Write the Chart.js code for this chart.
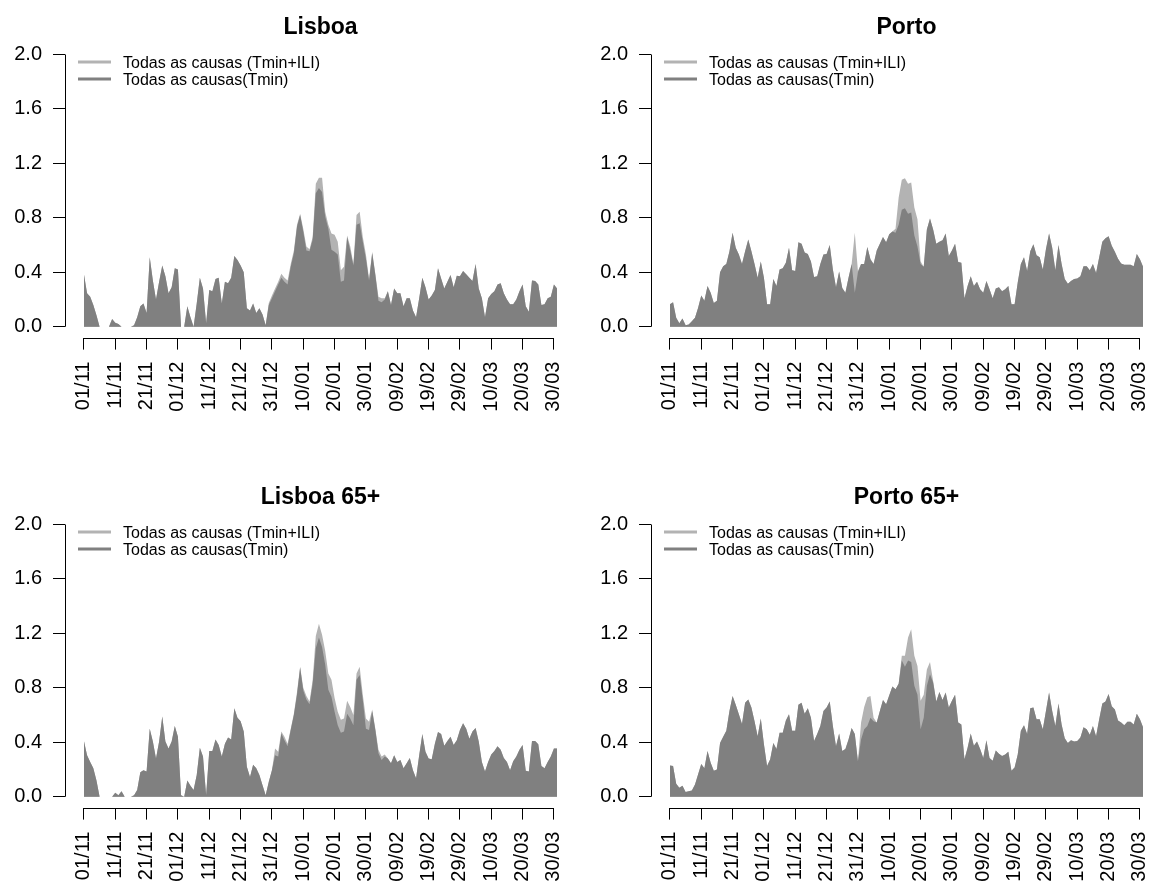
<!DOCTYPE html>
<html>
<head>
<meta charset="utf-8">
<title>Todas as causas</title>
<script src="https://cdn.jsdelivr.net/npm/chart.js@4.4.1/dist/chart.umd.min.js"></script>
<style>
  html, body { margin: 0; padding: 0; background: #fff; overflow: hidden; }
  #wrap { position: relative; width: 1152px; height: 884px; overflow: hidden; }
  #wrap canvas { position: absolute; }
</style>
</head>
<body>
<div id="wrap">
  <canvas id="cLisboa"   width="576" height="414" style="left:0;top:0"></canvas>
  <canvas id="cPorto"    width="576" height="414" style="left:586px;top:0"></canvas>
  <canvas id="cLisboa65" width="576" height="414" style="left:0;top:470px"></canvas>
  <canvas id="cPorto65"  width="576" height="414" style="left:586px;top:470px"></canvas>
</div>
<script>
// ---- axis ticks (day index from 01/11) ----
const TICK_DAYS   = [0, 10, 20, 30, 40, 50, 60, 70, 80, 90, 100, 110, 120, 130, 140, 150];
const TICK_LABELS = ['01/11','11/11','21/11','01/12','11/12','21/12','31/12','10/01',
                     '20/01','30/01','09/02','19/02','29/02','10/03','20/03','30/03'];
const Y_TICKS     = [0, 0.4, 0.8, 1.2, 1.6, 2.0];

const SERIES_NAMES = ['Todas as causas (Tmin+ILI)', 'Todas as causas(Tmin)'];

// ---- Lisboa ----
const LISBOA_TMIN = [
  0.385,0.245,0.22,0.16,0.085,0,0,0,0,0.056,0.03,0.02,0,0,0,0,0.01,0.07,0.15,0.17,
  0.1,0.51,0.34,0.2,0.33,0.45,0.37,0.245,0.29,0.43,0.42,0,0,0.15,0.07,0,0.17,0.36,0.28,0.025,
  0.27,0.26,0.35,0.36,0.17,0.33,0.32,0.36,0.52,0.49,0.45,0.4,0.135,0.12,0.17,0.1,0.135,0.09,0.01,0.16,
  0.21,0.26,0.31,0.36,0.33,0.31,0.44,0.54,0.735,0.82,0.70,0.56,0.555,0.64,0.98,1.02,0.99,0.81,0.72,0.565,
  0.55,0.53,0.33,0.34,0.66,0.56,0.45,0.75,0.76,0.625,0.5,0.34,0.54,0.38,0.19,0.18,0.2,0.26,0.16,0.28,
  0.245,0.245,0.15,0.21,0.21,0.12,0.07,0.21,0.36,0.29,0.2,0.23,0.27,0.43,0.355,0.28,0.33,0.38,0.29,0.375,
  0.37,0.41,0.385,0.36,0.335,0.46,0.28,0.21,0.07,0.21,0.24,0.26,0.31,0.32,0.245,0.2,0.165,0.165,0.2,0.26,
  0.31,0.15,0.11,0.34,0.335,0.31,0.16,0.165,0.21,0.22,0.31,0.28
];
const LISBOA_TMIN_ILI = [
  0.385,0.245,0.22,0.16,0.085,0,0,0,0,0.056,0.03,0.02,0,0,0,0,0.01,0.07,0.15,0.17,
  0.1,0.51,0.34,0.2,0.33,0.45,0.37,0.245,0.29,0.43,0.42,0,0,0.15,0.07,0,0.17,0.36,0.28,0.025,
  0.27,0.26,0.35,0.36,0.17,0.33,0.32,0.36,0.52,0.49,0.45,0.4,0.135,0.12,0.17,0.1,0.135,0.09,0.01,0.175,
  0.23,0.28,0.33,0.39,0.36,0.34,0.46,0.56,0.75,0.83,0.72,0.59,0.57,0.66,1.05,1.095,1.095,0.845,0.75,0.685,
  0.675,0.625,0.415,0.44,0.67,0.59,0.46,0.82,0.845,0.66,0.53,0.35,0.55,0.39,0.22,0.21,0.21,0.26,0.16,0.28,
  0.245,0.245,0.15,0.21,0.21,0.12,0.07,0.21,0.36,0.29,0.2,0.23,0.27,0.43,0.355,0.28,0.33,0.38,0.29,0.375,
  0.37,0.41,0.385,0.36,0.335,0.46,0.28,0.21,0.07,0.21,0.24,0.26,0.31,0.32,0.245,0.2,0.165,0.165,0.2,0.26,
  0.31,0.15,0.11,0.34,0.335,0.31,0.16,0.165,0.21,0.22,0.31,0.28
];

// ---- Porto ----
const PORTO_TMIN = [
  0.165,0.18,0.065,0.025,0.06,0.01,0.017,0.04,0.065,0.14,0.23,0.19,0.3,0.25,0.175,0.19,0.4,0.445,0.46,0.555,
  0.69,0.58,0.53,0.46,0.555,0.64,0.555,0.46,0.36,0.48,0.36,0.165,0.165,0.35,0.3,0.42,0.43,0.47,0.58,0.415,
  0.41,0.62,0.61,0.545,0.535,0.48,0.365,0.37,0.46,0.53,0.535,0.6,0.42,0.29,0.405,0.285,0.25,0.36,0.46,0.25,
  0.4,0.46,0.46,0.585,0.495,0.46,0.56,0.61,0.66,0.62,0.68,0.70,0.69,0.75,0.86,0.87,0.83,0.84,0.67,0.59,
  0.46,0.44,0.715,0.795,0.715,0.61,0.625,0.635,0.685,0.52,0.56,0.61,0.475,0.47,0.21,0.3,0.37,0.3,0.33,0.275,
  0.25,0.335,0.275,0.21,0.28,0.29,0.26,0.275,0.3,0.165,0.165,0.325,0.46,0.51,0.41,0.555,0.605,0.525,0.51,0.42,
  0.57,0.685,0.58,0.415,0.6,0.46,0.35,0.315,0.335,0.35,0.355,0.37,0.445,0.445,0.415,0.46,0.395,0.51,0.625,0.65,
  0.665,0.595,0.55,0.5,0.465,0.455,0.455,0.455,0.445,0.535,0.495,0.44
];
const PORTO_TMIN_ILI = [
  0.165,0.18,0.065,0.025,0.06,0.01,0.017,0.04,0.065,0.14,0.23,0.19,0.3,0.25,0.175,0.19,0.4,0.445,0.46,0.555,
  0.69,0.58,0.53,0.46,0.555,0.64,0.555,0.46,0.36,0.48,0.36,0.165,0.165,0.35,0.3,0.42,0.43,0.47,0.58,0.415,
  0.41,0.62,0.61,0.545,0.535,0.48,0.365,0.37,0.46,0.53,0.535,0.6,0.42,0.29,0.405,0.285,0.25,0.36,0.46,0.69,
  0.41,0.46,0.46,0.585,0.495,0.46,0.56,0.61,0.66,0.62,0.68,0.70,0.72,0.95,1.08,1.09,1.05,1.06,0.875,0.79,
  0.48,0.44,0.715,0.795,0.715,0.61,0.625,0.635,0.685,0.52,0.56,0.61,0.475,0.47,0.21,0.3,0.37,0.3,0.33,0.275,
  0.25,0.335,0.275,0.21,0.28,0.29,0.26,0.275,0.3,0.165,0.165,0.325,0.46,0.51,0.41,0.555,0.605,0.525,0.51,0.42,
  0.57,0.685,0.58,0.415,0.6,0.46,0.35,0.315,0.335,0.35,0.355,0.37,0.445,0.445,0.415,0.46,0.395,0.51,0.625,0.65,
  0.665,0.595,0.55,0.5,0.465,0.455,0.455,0.455,0.445,0.535,0.495,0.44
];

// ---- Lisboa 65+ ----
const LISBOA65_TMIN = [
  0.41,0.305,0.255,0.21,0.12,0,0,0,0,0,0.03,0.01,0.04,0,0,0,0.01,0.05,0.18,0.195,
  0.185,0.5,0.405,0.28,0.405,0.59,0.405,0.355,0.405,0.52,0.44,0.01,0,0.12,0.08,0.05,0.16,0.36,0.295,0.01,
  0.335,0.335,0.42,0.38,0.295,0.39,0.435,0.42,0.65,0.58,0.555,0.48,0.22,0.145,0.235,0.21,0.16,0.085,0.01,0.11,
  0.195,0.305,0.295,0.465,0.415,0.37,0.49,0.6,0.75,0.95,0.78,0.715,0.68,0.83,1.09,1.17,1.1,0.97,0.785,0.735,
  0.625,0.525,0.47,0.48,0.61,0.575,0.525,0.86,0.895,0.71,0.5,0.49,0.63,0.49,0.32,0.27,0.295,0.28,0.245,0.305,
  0.255,0.27,0.21,0.245,0.285,0.195,0.135,0.305,0.46,0.33,0.28,0.275,0.39,0.475,0.46,0.375,0.41,0.44,0.38,0.415,
  0.49,0.54,0.5,0.425,0.48,0.505,0.405,0.255,0.185,0.255,0.31,0.335,0.37,0.345,0.285,0.255,0.195,0.26,0.295,0.345,
  0.38,0.19,0.185,0.41,0.41,0.385,0.225,0.21,0.255,0.295,0.355,0.355
];
const LISBOA65_TMIN_ILI = [
  0.41,0.305,0.255,0.21,0.12,0,0,0,0,0,0.03,0.01,0.04,0,0,0,0.01,0.05,0.18,0.195,
  0.185,0.5,0.405,0.28,0.405,0.59,0.405,0.355,0.405,0.52,0.44,0.01,0,0.12,0.08,0.05,0.16,0.36,0.295,0.01,
  0.335,0.335,0.42,0.38,0.295,0.39,0.435,0.42,0.65,0.58,0.555,0.48,0.22,0.145,0.235,0.21,0.16,0.085,0.01,0.11,
  0.195,0.355,0.33,0.48,0.44,0.39,0.5,0.61,0.77,0.955,0.8,0.74,0.7,0.86,1.18,1.27,1.19,1.07,0.905,0.86,
  0.725,0.625,0.565,0.575,0.705,0.66,0.6,0.905,0.955,0.75,0.575,0.55,0.64,0.5,0.345,0.295,0.31,0.28,0.245,0.305,
  0.255,0.27,0.21,0.245,0.285,0.195,0.135,0.305,0.46,0.33,0.28,0.275,0.39,0.475,0.46,0.375,0.41,0.44,0.38,0.415,
  0.49,0.54,0.5,0.425,0.48,0.505,0.405,0.255,0.185,0.255,0.31,0.335,0.37,0.345,0.285,0.255,0.195,0.26,0.295,0.345,
  0.38,0.19,0.185,0.41,0.41,0.385,0.225,0.21,0.255,0.295,0.355,0.355
];

// ---- Porto 65+ ----
const PORTO65_TMIN = [
  0.23,0.225,0.095,0.065,0.08,0.035,0.04,0.045,0.09,0.165,0.24,0.21,0.335,0.25,0.19,0.2,0.395,0.44,0.485,0.63,
  0.74,0.675,0.605,0.535,0.69,0.715,0.655,0.555,0.445,0.575,0.385,0.225,0.275,0.395,0.35,0.47,0.47,0.56,0.605,0.485,
  0.485,0.675,0.69,0.61,0.65,0.58,0.41,0.46,0.52,0.63,0.655,0.7,0.52,0.37,0.465,0.335,0.35,0.42,0.505,0.46,
  0.26,0.42,0.495,0.52,0.58,0.555,0.545,0.63,0.71,0.68,0.745,0.81,0.79,0.83,1.0,0.955,1.0,0.99,0.815,0.75,
  0.495,0.58,0.815,0.9,0.84,0.7,0.77,0.71,0.765,0.655,0.705,0.75,0.545,0.53,0.275,0.36,0.465,0.375,0.405,0.35,
  0.285,0.415,0.285,0.265,0.34,0.315,0.3,0.31,0.33,0.19,0.215,0.31,0.485,0.525,0.46,0.65,0.655,0.57,0.57,0.495,
  0.63,0.765,0.63,0.52,0.685,0.53,0.43,0.395,0.415,0.405,0.41,0.435,0.51,0.495,0.455,0.52,0.445,0.57,0.685,0.7,
  0.755,0.665,0.64,0.56,0.545,0.525,0.55,0.55,0.53,0.61,0.57,0.51
];
const PORTO65_TMIN_ILI = [
  0.23,0.225,0.095,0.065,0.08,0.035,0.04,0.045,0.09,0.165,0.24,0.21,0.335,0.25,0.19,0.2,0.395,0.44,0.485,0.63,
  0.74,0.675,0.605,0.535,0.69,0.715,0.655,0.555,0.445,0.575,0.385,0.225,0.275,0.395,0.35,0.47,0.47,0.56,0.605,0.485,
  0.485,0.675,0.69,0.61,0.65,0.58,0.41,0.46,0.52,0.63,0.655,0.7,0.52,0.37,0.465,0.335,0.35,0.42,0.505,0.46,
  0.26,0.545,0.66,0.73,0.74,0.58,0.545,0.63,0.71,0.68,0.745,0.81,0.79,0.83,1.035,1.035,1.17,1.23,1.035,0.96,
  0.705,0.75,0.935,0.99,0.85,0.7,0.77,0.71,0.765,0.655,0.705,0.75,0.545,0.53,0.275,0.36,0.465,0.375,0.405,0.35,
  0.285,0.415,0.285,0.265,0.34,0.315,0.3,0.31,0.33,0.19,0.215,0.31,0.485,0.525,0.46,0.65,0.655,0.57,0.57,0.495,
  0.63,0.765,0.63,0.52,0.685,0.53,0.43,0.395,0.415,0.405,0.41,0.435,0.51,0.495,0.455,0.52,0.445,0.57,0.685,0.7,
  0.755,0.665,0.64,0.56,0.545,0.525,0.55,0.55,0.53,0.61,0.57,0.51
];

const LIGHT = '#b3b3b3';
const DARK  = '#808080';
const FONT  = '"Liberation Sans", Arial, Helvetica, sans-serif';

Chart.defaults.font.family = FONT;
Chart.defaults.color = '#000';

// R-style axis lines: only between first and last tick
const rAxes = {
  id: 'rAxes',
  afterDraw(chart) {
    const { ctx, chartArea, scales: { x, y } } = chart;
    ctx.save();
    ctx.strokeStyle = '#000';
    ctx.lineWidth = 1;
    ctx.beginPath();
    const yb = Math.round(chartArea.bottom) + 0.5;
    ctx.moveTo(x.getPixelForValue(TICK_DAYS[0]), yb);
    ctx.lineTo(x.getPixelForValue(TICK_DAYS[TICK_DAYS.length - 1]), yb);
    const xl = Math.round(chartArea.left) + 0.5;
    ctx.moveTo(xl, y.getPixelForValue(Y_TICKS[0]));
    ctx.lineTo(xl, y.getPixelForValue(Y_TICKS[Y_TICKS.length - 1]));
    ctx.stroke();
    ctx.restore();
  }
};

// legend inside the plot, top-left
const inLegend = {
  id: 'inLegend',
  afterDraw(chart) {
    const { ctx, chartArea } = chart;
    const items = chart.data.datasets.slice().sort((a, b) => b.order - a.order);
    ctx.save();
    ctx.font = '16px ' + FONT;
    ctx.textBaseline = 'middle';
    ctx.textAlign = 'left';
    items.forEach((ds, i) => {
      const yy = chartArea.top + 18.5 + i * 17;
      ctx.strokeStyle = ds.backgroundColor;
      ctx.lineWidth = 3;
      ctx.beginPath();
      ctx.moveTo(chartArea.left + 13, yy);
      ctx.lineTo(chartArea.left + 46, yy);
      ctx.stroke();
      ctx.fillStyle = '#000';
      ctx.fillText(ds.label, chartArea.left + 58, yy + 1);
    });
    ctx.restore();
  }
};

// drop the label overhang padding so the plot region spans the whole panel like R
function noOverhang(s) {
  s.paddingLeft = 0;
  s.paddingRight = 0;
  s.paddingTop = 0;
  s.paddingBottom = 0;
}

function renderPanel(canvasId, title, tminIli, tmin) {
  const canvas = document.getElementById(canvasId);
  const days = tmin.map((_, i) => i);

  new Chart(canvas, {
    type: 'line',
    data: {
      labels: days,
      datasets: [
        {
          label: SERIES_NAMES[1],
          data: tmin,
          order: 0,
          fill: 'origin',
          backgroundColor: DARK,
          borderColor: DARK,
          borderWidth: 0,
          pointRadius: 0,
          tension: 0,
        },
        {
          label: SERIES_NAMES[0],
          data: tminIli,
          order: 1,
          fill: 'origin',
          backgroundColor: LIGHT,
          borderColor: LIGHT,
          borderWidth: 0,
          pointRadius: 0,
          tension: 0,
        }
      ]
    },
    options: {
      responsive: false,
      animation: false,
      layout: { padding: 0 },
      plugins: {
        legend: { display: false },
        tooltip: { enabled: false },
        title: {
          display: true,
          text: title,
          fullSize: false,
          color: '#000',
          font: { size: 23, weight: 'bold', family: FONT, lineHeight: 1.2 },
          padding: { top: 14, bottom: 2 }
        }
      },
      scales: {
        x: {
          type: 'linear',
          min: -6.04,
          max: 157.04,
          afterBuildTicks: s => { s.ticks = TICK_DAYS.map(v => ({ value: v })); },
          afterFit: s => { s.height = 76.4; noOverhang(s); },
          border: { display: false },
          grid: { drawOnChartArea: false, drawTicks: true, tickLength: 12, color: '#000', lineWidth: 1 },
          ticks: {
            autoSkip: false,
            minRotation: 90,
            maxRotation: 90,
            padding: 12,
            color: '#000',
            font: { size: 20 },
            callback: v => TICK_LABELS[TICK_DAYS.indexOf(v)]
          }
        },
        y: {
          min: -0.08,
          max: 2.08,
          afterBuildTicks: s => { s.ticks = Y_TICKS.map(v => ({ value: v })); },
          afterFit: s => { s.width = 65; noOverhang(s); },
          border: { display: false },
          grid: { drawOnChartArea: false, drawTicks: true, tickLength: 12, color: '#000', lineWidth: 1 },
          ticks: {
            padding: 11,
            color: '#000',
            font: { size: 20 },
            callback: v => v.toFixed(1)
          }
        }
      }
    },
    plugins: [rAxes, inLegend]
  });
}

renderPanel('cLisboa',   'Lisboa',     LISBOA_TMIN_ILI,   LISBOA_TMIN);
renderPanel('cPorto',    'Porto',      PORTO_TMIN_ILI,    PORTO_TMIN);
renderPanel('cLisboa65', 'Lisboa 65+', LISBOA65_TMIN_ILI, LISBOA65_TMIN);
renderPanel('cPorto65',  'Porto 65+',  PORTO65_TMIN_ILI,  PORTO65_TMIN);
</script>
</body>
</html>
